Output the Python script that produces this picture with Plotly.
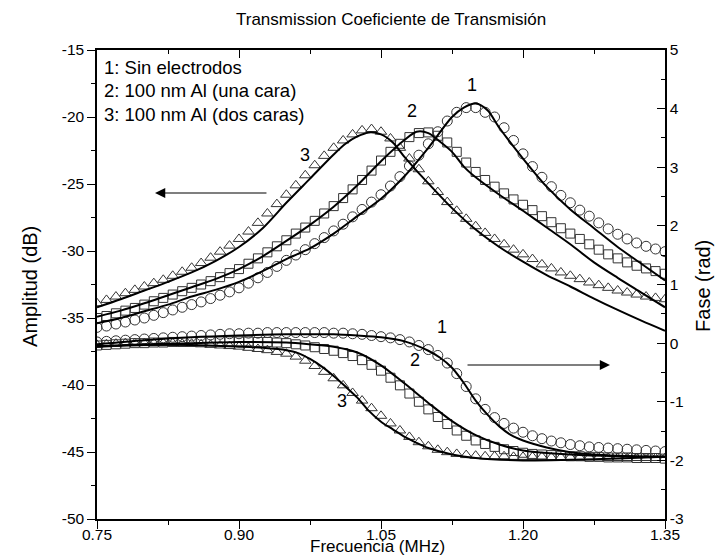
import plotly.graph_objects as go

# ---------------- data ----------------
# marker frequencies (MHz), 0.01 step
freq_pts = [round(0.75 + 0.01 * i, 2) for i in range(61)]

amp1_pts = [-35.7, -35.6, -35.45, -35.3, -35.15, -35.0, -34.8, -34.6, -34.4, -34.2,
            -34.0, -33.8, -33.55, -33.3, -33.05, -32.75, -32.4, -32.0, -31.6, -31.15,
            -30.7, -30.3, -29.9, -29.45, -29.0, -28.5, -28.0, -27.45, -26.9, -26.35,
            -25.8, -25.15, -24.45, -23.65, -22.85, -22.0, -21.1, -20.3, -19.65, -19.3,
            -19.3, -19.65, -20.0, -20.8, -21.75, -22.75, -23.7, -24.5, -25.2, -25.85,
            -26.4, -26.95, -27.4, -27.9, -28.35, -28.75, -29.1, -29.4, -29.65, -29.85,
            -30.05]
amp2_pts = [-35.0, -34.85, -34.65, -34.45, -34.25, -34.0, -33.75, -33.5, -33.25, -33.0,
            -32.75, -32.5, -32.25, -31.95, -31.65, -31.35, -30.95, -30.55, -30.1, -29.65,
            -29.2, -28.7, -28.25, -27.75, -27.2, -26.65, -26.05, -25.4, -24.7, -24.0,
            -23.25, -22.6, -22.0, -21.5, -21.2, -21.15, -21.4, -21.9, -22.6, -23.4,
            -24.1, -24.7, -25.2, -25.7, -26.15, -26.55, -26.95, -27.4, -27.85, -28.3,
            -28.7, -29.1, -29.5, -29.9, -30.25, -30.55, -30.85, -31.1, -31.3, -31.5,
            -31.7]
amp3_pts = [-33.9, -33.65, -33.4, -33.15, -32.9, -32.65, -32.4, -32.15, -31.85, -31.55,
            -31.25, -30.9, -30.5, -30.05, -29.6, -29.1, -28.55, -27.9, -27.2, -26.5,
            -25.8, -25.1, -24.35, -23.6, -22.9, -22.3, -21.75, -21.3, -21.0, -20.9,
            -21.1, -21.6, -22.3, -23.1, -23.9, -24.8, -25.6, -26.35, -27.0, -27.6,
            -28.15, -28.65, -29.1, -29.5, -29.9, -30.25, -30.6, -31.0, -31.3, -31.6,
            -31.85, -32.1, -32.35, -32.55, -32.75, -32.95, -33.1, -33.25, -33.4, -33.5,
            -33.6]

ph1_pts = [0.02, 0.03, 0.04, 0.05, 0.06, 0.07, 0.08, 0.09, 0.10, 0.11,
           0.12, 0.13, 0.14, 0.15, 0.16, 0.16, 0.17, 0.17, 0.18, 0.18,
           0.18, 0.18, 0.18, 0.18, 0.18, 0.17, 0.17, 0.16, 0.15, 0.13,
           0.11, 0.09, 0.06, 0.02, -0.04, -0.11, -0.21, -0.34, -0.52, -0.74,
           -0.95, -1.13, -1.27, -1.37, -1.45, -1.52, -1.58, -1.63, -1.67, -1.70,
           -1.73, -1.75, -1.77, -1.78, -1.79, -1.80, -1.81, -1.82, -1.83, -1.84,
           -1.85]
ph2_pts = [-0.04, -0.03, -0.02, -0.01, 0.0, 0.0, 0.01, 0.01, 0.02, 0.02,
           0.02, 0.03, 0.03, 0.03, 0.03, 0.03, 0.03, 0.02, 0.02, 0.01,
           0.0, -0.02, -0.04, -0.07, -0.10, -0.13, -0.17, -0.22, -0.29, -0.37,
           -0.47, -0.59, -0.72, -0.86, -1.0, -1.13, -1.26, -1.38, -1.49, -1.58,
           -1.66, -1.72, -1.77, -1.81, -1.84, -1.87, -1.89, -1.90, -1.91, -1.92,
           -1.93, -1.93, -1.94, -1.94, -1.95, -1.95, -1.95, -1.96, -1.96, -1.96,
           -1.97]
ph3_pts = [-0.03, -0.02, -0.01, 0.0, 0.0, 0.0, 0.0, 0.0, 0.0, -0.01,
           -0.01, -0.02, -0.03, -0.04, -0.05, -0.06, -0.08, -0.10, -0.12, -0.15,
           -0.18, -0.23, -0.30, -0.39, -0.49, -0.60, -0.72, -0.85, -0.98, -1.11,
           -1.24, -1.37, -1.49, -1.60, -1.69, -1.76, -1.82, -1.86, -1.89, -1.91,
           -1.92, -1.93, -1.93, -1.93, -1.94, -1.94, -1.94, -1.94, -1.95, -1.95,
           -1.95, -1.95, -1.95, -1.95, -1.96, -1.96, -1.96, -1.96, -1.96, -1.96,
           -1.96]

# fitted curves
fit1_f = [0.75, 0.775, 0.80, 0.825, 0.85, 0.875, 0.90, 0.925, 0.95, 0.975, 1.00, 1.025,
          1.05, 1.075, 1.10, 1.125, 1.1375, 1.15, 1.1625, 1.175, 1.20, 1.225, 1.25,
          1.275, 1.30, 1.325, 1.35]
fit1_amp = [-35.4, -35.0, -34.5, -34.0, -33.4, -32.9, -32.3, -31.5, -30.6, -29.8, -28.7,
            -27.4, -26.1, -24.4, -22.3, -20.0, -19.3, -19.0, -19.5, -20.8, -23.1, -25.2,
            -26.9, -28.3, -29.7, -30.95, -32.2]
fit2_f = [0.75, 0.775, 0.80, 0.825, 0.85, 0.875, 0.90, 0.925, 0.95, 0.975, 1.00, 1.025,
          1.05, 1.075, 1.0875, 1.10, 1.1125, 1.125, 1.1375, 1.15, 1.175, 1.20, 1.225,
          1.25, 1.275, 1.30, 1.325, 1.35]
fit2_amp = [-34.9, -34.45, -33.9, -33.3, -32.7, -32.1, -31.35, -30.4, -29.25, -28.05,
            -26.7, -25.1, -23.3, -21.7, -21.1, -21.2, -21.85, -22.6, -23.7, -24.5, -25.8,
            -27.0, -28.25, -29.5, -30.85, -32.0, -33.1, -34.2]
fit3_f = [0.75, 0.775, 0.80, 0.825, 0.85, 0.875, 0.90, 0.925, 0.95, 0.975, 1.00, 1.0125,
          1.025, 1.0375, 1.05, 1.0625, 1.075, 1.0875, 1.10, 1.125, 1.15, 1.175, 1.20,
          1.225, 1.25, 1.275, 1.30, 1.325, 1.35]
fit3_amp = [-34.2, -33.6, -32.95, -32.3, -31.6, -30.75, -29.7, -28.3, -26.4, -24.6,
            -22.8, -22.0, -21.45, -21.15, -21.3, -21.9, -23.0, -24.0, -24.95, -26.8,
            -28.4, -29.7, -30.8, -31.8, -32.65, -33.55, -34.4, -35.2, -35.95]

fitp1_f = [0.75, 0.80, 0.85, 0.90, 0.95, 1.00, 1.025, 1.05, 1.075, 1.10, 1.1125, 1.125,
           1.1375, 1.15, 1.1625, 1.175, 1.1875, 1.20, 1.225, 1.25, 1.275, 1.30, 1.35]
fitp1_ph = [-0.02, 0.05, 0.10, 0.13, 0.15, 0.15, 0.13, 0.10, 0.03, -0.13, -0.25, -0.42,
            -0.68, -0.98, -1.22, -1.42, -1.57, -1.66, -1.78, -1.86, -1.90, -1.92, -1.94]
fitp2_f = [0.75, 0.80, 0.85, 0.90, 0.95, 0.975, 1.00, 1.025, 1.05, 1.075, 1.10, 1.125,
           1.15, 1.175, 1.20, 1.25, 1.30, 1.35]
fitp2_ph = [-0.06, -0.02, 0.0, 0.02, 0.01, -0.02, -0.06, -0.16, -0.38, -0.69, -1.02,
            -1.33, -1.57, -1.73, -1.83, -1.90, -1.93, -1.94]
fitp3_f = [0.75, 0.80, 0.85, 0.90, 0.925, 0.95, 0.9625, 0.975, 0.9875, 1.00, 1.0125,
           1.025, 1.0375, 1.05, 1.0625, 1.075, 1.0875, 1.10, 1.125, 1.15, 1.20, 1.25,
           1.30, 1.35]
fitp3_ph = [-0.05, -0.03, -0.03, -0.06, -0.08, -0.12, -0.17, -0.27, -0.40, -0.56, -0.74,
            -0.93, -1.16, -1.34, -1.47, -1.60, -1.70, -1.79, -1.90, -1.96, -2.0, -1.99,
            -1.97, -1.94]

x_ticks = [0.75, 0.90, 1.05, 1.20, 1.35]
y_ticks = [-50, -45, -40, -35, -30, -25, -20, -15]
y2_ticks = [-3, -2, -1, 0, 1, 2, 3, 4, 5]

legend_lines = ["1: Sin electrodos", "2: 100 nm Al (una cara)", "3: 100 nm Al (dos caras)"]
amp_labels = [("1", 1.1461, -17.61), ("2", 1.0827, -19.55), ("3", 0.9697, -22.84)]
ph_labels = [("1", 1.1144, 0.275), ("2", 1.0859, -0.288), ("3", 1.0088, -0.987)]

# ---------------- figure ----------------
FONT = "Liberation Sans, Arial, sans-serif"
MK = "#333333"
fig = go.Figure()

markers = [
    (amp1_pts, "y", "circle-open", 10), (amp2_pts, "y", "square-open", 9),
    (amp3_pts, "y", "triangle-up-open", 10),
    (ph1_pts, "y2", "circle-open", 10), (ph2_pts, "y2", "square-open", 9),
    (ph3_pts, "y2", "triangle-up-open", 10),
]
for vals, ax, sym, sz in markers:
    fig.add_trace(go.Scatter(x=freq_pts, y=vals, yaxis=ax, mode="markers",
                             marker=dict(symbol=sym, size=sz, color=MK,
                                         line=dict(width=1, color=MK)),
                             showlegend=False, hoverinfo="skip"))

fits = [(fit1_f, fit1_amp, "y"), (fit2_f, fit2_amp, "y"), (fit3_f, fit3_amp, "y"),
        (fitp1_f, fitp1_ph, "y2"), (fitp2_f, fitp2_ph, "y2"), (fitp3_f, fitp3_ph, "y2")]
for fx, fy, ax in fits:
    fig.add_trace(go.Scatter(x=fx, y=fy, yaxis=ax, mode="lines",
                             line=dict(color="black", width=2, shape="spline", smoothing=0.8),
                             showlegend=False, hoverinfo="skip"))

# helper trace so the top axis is drawn
fig.add_trace(go.Scatter(x=[x_ticks[0], x_ticks[-1]], y=[y_ticks[0], y_ticks[0]],
                         xaxis="x2", yaxis="y", mode="lines", opacity=0,
                         showlegend=False, hoverinfo="skip"))

tickfont = dict(family=FONT, size=15.5, color="black")
fig.update_layout(
    width=720, height=555,
    margin=dict(l=97, r=55, t=50, b=36),
    paper_bgcolor="white", plot_bgcolor="white",
    font=dict(family=FONT, color="black"),
    xaxis=dict(range=[0.75, 1.35], tickvals=x_ticks, ticktext=[f"{v:.2f}" for v in x_ticks],
               ticks="outside", ticklen=8, tickwidth=1.3, tickcolor="black",
               showline=True, linecolor="black", linewidth=1.5, showgrid=False,
               zeroline=False, tickfont=tickfont, automargin=False,
               ticklabelstandoff=-7,
               minor=dict(dtick=0.075, tick0=0.75, ticks="outside", ticklen=4,
                          tickwidth=1.3, tickcolor="black", showgrid=False)),
    xaxis2=dict(range=[0.75, 1.35], overlaying="x", side="top", tickvals=x_ticks,
                showticklabels=False, ticks="inside", ticklen=8, tickwidth=1.3,
                tickcolor="black", showline=True, linecolor="black", linewidth=1.5,
                showgrid=False, zeroline=False, automargin=False,
                minor=dict(dtick=0.075, tick0=0.75, ticks="inside", ticklen=4,
                           tickwidth=1.3, tickcolor="black", showgrid=False)),
    yaxis=dict(range=[-50, -15], tickvals=y_ticks, ticktext=[str(v) for v in y_ticks],
               ticks="outside", ticklen=8,
               tickwidth=1.3, tickcolor="black", showline=True, linecolor="black",
               linewidth=1.5, showgrid=False, zeroline=False, tickfont=tickfont,
               automargin=False,
               minor=dict(dtick=2.5, tick0=-50, ticks="outside", ticklen=4,
                          tickwidth=1.3, tickcolor="black", showgrid=False)),
    yaxis2=dict(range=[-3, 5], tickvals=y2_ticks, ticktext=[str(v) for v in y2_ticks],
                overlaying="y", side="right",
                ticks="inside", ticklen=8, tickwidth=1.3, tickcolor="black",
                showline=True, linecolor="black", linewidth=1.5, showgrid=False,
                zeroline=False, tickfont=tickfont, automargin=False,
                minor=dict(dtick=0.5, tick0=-3, ticks="inside", ticklen=4,
                           tickwidth=1.3, tickcolor="black", showgrid=False)),
)

ann = []
ann.append(dict(text="Transmission Coeficiente de Transmisión", xref="paper", yref="paper",
                x=0.5176, y=1.064, showarrow=False, font=dict(size=17),
                xanchor="center", yanchor="middle"))
ann.append(dict(text="Frecuencia (MHz)", xref="paper", yref="paper", x=0.493,
                y=(519 - 546.5) / 469,
                showarrow=False, font=dict(size=17), xanchor="center", yanchor="middle"))
ann.append(dict(text="Amplitud (dB)", xref="paper", yref="paper", x=-0.118, y=0.497,
                showarrow=False, font=dict(size=20), textangle=-90,
                xanchor="center", yanchor="middle"))
ann.append(dict(text="Fase (rad)", xref="paper", yref="paper", x=1.067, y=0.497,
                showarrow=False, font=dict(size=20), textangle=-90,
                xanchor="center", yanchor="middle"))
for i, t in enumerate(legend_lines):
    ann.append(dict(text=t, xref="paper", yref="paper", x=0.008,
                    y=(519 - 67 - 23.5 * i) / 469, showarrow=False, font=dict(size=18.5),
                    xanchor="left", yanchor="middle"))
for t, fx, fy in amp_labels:
    ann.append(dict(text=t, x=fx, y=fy, xref="x", yref="y", showarrow=False,
                    font=dict(size=18), xanchor="center", yanchor="middle"))
for t, fx, fy in ph_labels:
    ann.append(dict(text=t, x=fx, y=fy, xref="x", yref="y2", showarrow=False,
                    font=dict(size=18), xanchor="center", yanchor="middle"))
# arrows
ann.append(dict(x=0.8113, y=-25.67, xref="x", yref="y", ax=0.9306, ay=-25.67,
                axref="x", ayref="y", showarrow=True, arrowhead=2, arrowsize=1.7,
                arrowwidth=1.2, arrowcolor="black", text=""))
ann.append(dict(x=1.2919, y=-0.373, xref="x", yref="y2", ax=1.1398, ay=-0.373,
                axref="x", ayref="y2", showarrow=True, arrowhead=2, arrowsize=1.7,
                arrowwidth=1.2, arrowcolor="black", text=""))
fig.update_layout(annotations=ann)

fig.write_html("out.html")
